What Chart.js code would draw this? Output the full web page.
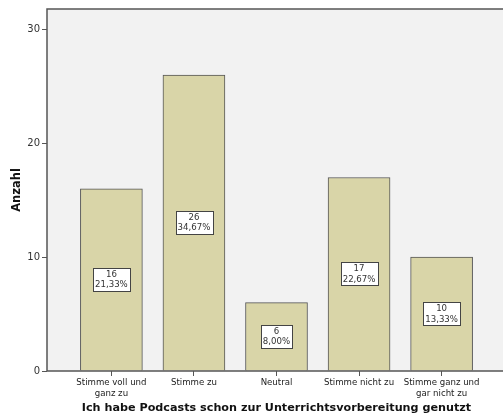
<!DOCTYPE html>
<html>
<head>
<meta charset="utf-8">
<script src="https://cdn.jsdelivr.net/npm/chart.js@4/dist/chart.umd.min.js"></script>
<style>
html,body{margin:0;padding:0;background:#fff;overflow:hidden;}
#wrap{width:515px;height:418px;position:relative;}
</style>
</head>
<body>
<div id="wrap"><canvas id="c"></canvas></div>
<script>
const categories = [["Stimme voll und","ganz zu"],"Stimme zu","Neutral","Stimme nicht zu",["Stimme ganz und","gar nicht zu"]];
const counts = [16,26,6,17,10];
const percents = ["21,33%","34,67%","8,00%","22,67%","13,33%"];
const yTicks = [0,10,20,30];
const xTitle = "Ich habe Podcasts schon zur Unterrichtsvorbereitung genutzt";
const yTitle = "Anzahl";

const FONT = "'DejaVu Sans', Verdana, sans-serif";

const bgPlugin = {
  id:'bg',
  beforeDraw(chart){
    const {ctx, chartArea:a} = chart;
    ctx.save();
    ctx.fillStyle='#f2f2f2';
    ctx.fillRect(a.left,a.top,a.right-a.left,a.bottom-a.top);
    ctx.restore();
  },
  afterDatasetsDraw(chart){
    const {ctx, chartArea:a} = chart;
    ctx.save();
    ctx.strokeStyle='#555';
    ctx.lineWidth=1.5;
    ctx.beginPath();
    ctx.moveTo(a.right+2,a.top);
    ctx.lineTo(a.left,a.top);
    ctx.lineTo(a.left,a.bottom);
    ctx.lineTo(a.right+2,a.bottom);
    ctx.stroke();
    const meta = chart.getDatasetMeta(0);
    ctx.font = "8.6px " + FONT;
    ctx.textAlign='center';
    ctx.textBaseline='middle';
    meta.data.forEach((bar,i)=>{
      const cx = bar.x;
      const cy = (bar.y + bar.base)/2;
      const l1 = String(counts[i]), l2 = percents[i];
      const w = Math.max(ctx.measureText(l1).width, ctx.measureText(l2).width) + 4;
      const h = 23;
      ctx.fillStyle='#fff';
      ctx.fillRect(Math.round(cx-w/2)+0.5, Math.round(cy-h/2)+0.5, Math.round(w), h);
      ctx.strokeStyle='#444';
      ctx.lineWidth=1;
      ctx.strokeRect(Math.round(cx-w/2)+0.5, Math.round(cy-h/2)+0.5, Math.round(w), h);
      ctx.fillStyle='#333';
      ctx.fillText(l1, cx, cy-5);
      ctx.fillText(l2, cx, cy+5.5);
    });
    ctx.restore();
  }
};

new Chart(document.getElementById('c'), {
  type:'bar',
  data:{
    datasets:[{
      data: counts.map((v,i)=>({x:i,y:v})),
      backgroundColor:'#d9d5a8',
      borderColor:'#555',
      borderWidth:1,
      barThickness:62,
      borderSkipped:'bottom'
    }]
  },
  options:{
    responsive:true,
    maintainAspectRatio:false,
    animation:false,
    layout:{padding:{top:9,right:9,left:0,bottom:0}},
    plugins:{legend:{display:false},tooltip:{enabled:false}},
    scales:{
      x:{
        type:'linear',
        offset:false,
        min:-0.78, max:4.78,
        afterBuildTicks(s){ s.ticks = categories.map((c,i)=>({value:i})); },
        afterFit(s){ s.height = 47; },
        ticks:{
          callback:(v)=>categories[v],
          color:'#222',
          font:{size:8.6,family:FONT},
          padding:2,
          maxRotation:0,
          autoSkip:false
        },
        grid:{display:true,offset:false,drawOnChartArea:false,drawTicks:true,tickLength:5,color:'#555',lineWidth:1},
        border:{display:false},
        title:{display:true,text:xTitle,color:'#111',font:{size:11.2,weight:'bold',family:FONT},padding:{top:0,bottom:3}}
      },
      y:{
        min:0, max:31.8,
        afterBuildTicks(s){ s.ticks = yTicks.map(v=>({value:v})); },
        afterFit(s){ s.width = 47; },
        ticks:{color:'#333',font:{size:10,family:FONT},padding:2},
        grid:{display:true,drawOnChartArea:false,drawTicks:true,tickLength:5,color:'#555',lineWidth:1},
        border:{display:false},
        title:{display:true,text:yTitle,color:'#111',font:{size:11.5,weight:'bold',family:FONT},padding:{top:10,bottom:0}}
      }
    }
  },
  plugins:[bgPlugin]
});
</script>
</body>
</html>
